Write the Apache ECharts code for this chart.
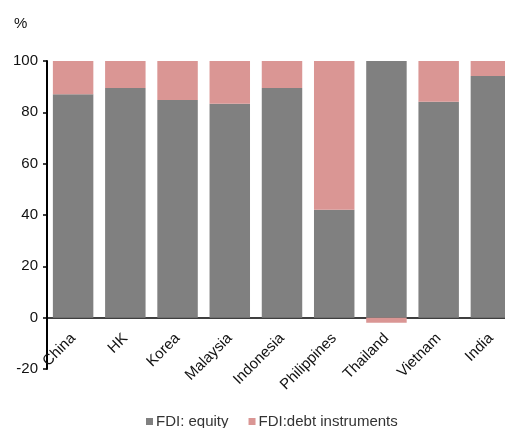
<!DOCTYPE html>
<html>
<head>
<meta charset="utf-8">
<script src="https://cdn.jsdelivr.net/npm/echarts@6/dist/echarts.min.js"></script>
<style>
html,body{margin:0;padding:0;background:#fff;}
#chart{width:505px;height:428px;}
</style>
</head>
<body>
<div id="chart"></div>
<script>
const categories = ["China","HK","Korea","Malaysia","Indonesia","Philippines","Thailand","Vietnam","India"];
const equity = [87.0, 89.5, 84.8, 83.3, 89.5, 42.0, 100.0, 84.1, 94.2];
const debt = [13.0, 10.5, 15.2, 16.7, 10.5, 58.0, -2.0, 15.9, 5.8];
const yTicks = [-20, 0, 20, 40, 60, 80, 100];

const chart = echarts.init(document.getElementById('chart'), null, {renderer:'canvas'});
const font = 'Liberation Sans, Arial, sans-serif';
chart.setOption({
  animation:false,
  backgroundColor:'#fff',
  title:{text:'%', left:9, top:11, textStyle:{fontFamily:font, fontSize:15, fontWeight:'normal', color:'#111'}},
  grid:{left:47, top:61, width:470, bottom:59, containLabel:false, outerBoundsMode:'none'},
  legend:{
    top:409, left:141, itemWidth:7, itemHeight:7, itemGap:20, icon:'rect',
    textStyle:{fontFamily:font, fontSize:15, color:'#333', padding:[0,0,0,-2]},
    data:['FDI: equity','FDI:debt instruments']
  },
  xAxis:{
    type:'category', data:categories,
    axisLine:{onZero:true, lineStyle:{color:'#000', width:1.5}},
    axisTick:{show:false},
    axisLabel:{rotate:45, interval:0, margin:-33, fontFamily:font, fontSize:15, color:'#111'}
  },
  yAxis:{
    type:'value', min:yTicks[0], max:yTicks[yTicks.length-1], interval:20,
    splitLine:{show:false},
    axisLine:{show:true, lineStyle:{color:'#000', width:2}},
    axisTick:{show:true, length:4, lineStyle:{color:'#000', width:1.5}},
    axisLabel:{margin:9, fontFamily:font, fontSize:15, color:'#111'}
  },
  series:[
    {name:'FDI: equity', type:'bar', stack:'a', data:equity, barCategoryGap:'22.5%',
     itemStyle:{color:'#808080'}},
    {name:'FDI:debt instruments', type:'bar', stack:'a', data:debt,
     itemStyle:{color:'#DA9694'}}
  ]
});
</script>
</body>
</html>
